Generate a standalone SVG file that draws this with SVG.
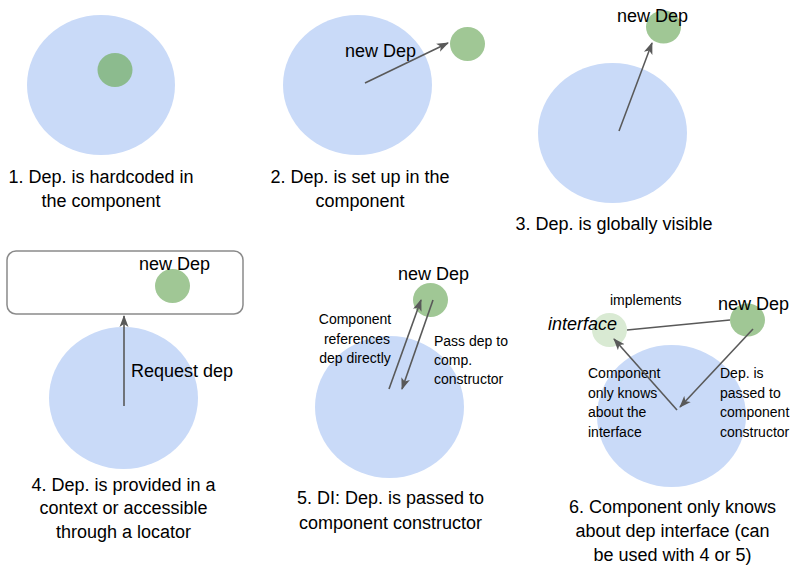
<svg xmlns="http://www.w3.org/2000/svg" width="800" height="569" viewBox="0 0 800 569">
<style>
.comp{fill:#c9daf8}
.dep{fill:#a0c795}
.t{font-family:"Liberation Sans",Arial,sans-serif;fill:#000}
.cap{font-size:18px;text-anchor:middle}
.lbl{font-size:18px}
.sm{font-size:14px}
.conn{stroke:#595959;stroke-width:1.6;fill:none}
</style>
<defs>
<marker id="arr" viewBox="0 0 12 10" refX="11" refY="5" markerWidth="12" markerHeight="10" markerUnits="userSpaceOnUse" orient="auto">
<path d="M0,0.5 L12,5 L0,9.5 L3,5 z" fill="#595959"/>
</marker>
</defs>
<rect width="800" height="569" fill="#fff"/>

<g id="panel1">
<ellipse class="comp" cx="101" cy="85" rx="74" ry="70"/>
<ellipse cx="115" cy="70" rx="17.5" ry="17" fill="#8cbb8e"/>
<text class="t cap" x="101" y="183">1. Dep. is hardcoded in</text>
<text class="t cap" x="101" y="207">the component</text>
</g>

<g id="panel2">
<ellipse class="comp" cx="357.5" cy="85" rx="74.5" ry="70"/>
<ellipse class="dep" cx="467.5" cy="44" rx="17.5" ry="17"/>
<text class="t lbl" x="345" y="57">new Dep</text>
<text class="t cap" x="360" y="183">2. Dep. is set up in the</text>
<text class="t cap" x="360" y="207">component</text>
</g>

<g id="panel3">
<ellipse class="comp" cx="612.5" cy="133" rx="74.5" ry="70"/>
<ellipse class="dep" cx="663.5" cy="27" rx="17.5" ry="16.5"/>
<text class="t lbl" x="617" y="22">new Dep</text>
<text class="t cap" x="614" y="230">3. Dep. is globally visible</text>
</g>

<g id="panel4">
<rect x="7" y="251" width="236" height="63" rx="9" fill="#fff" stroke="#8a8a8a" stroke-width="1.5"/>
<ellipse class="dep" cx="172.5" cy="286" rx="17.5" ry="17"/>
<text class="t lbl" x="139" y="270">new Dep</text>
<ellipse class="comp" cx="123.5" cy="398" rx="74.5" ry="71"/>
<text class="t lbl" x="131" y="377">Request dep</text>
<text class="t cap" x="123.5" y="491">4. Dep. is provided in a</text>
<text class="t cap" x="123.5" y="514">context or accessible</text>
<text class="t cap" x="123.5" y="538">through a locator</text>
</g>

<g id="panel5">
<ellipse class="comp" cx="389.5" cy="407" rx="74.5" ry="71"/>
<ellipse class="dep" cx="430.5" cy="300" rx="17.5" ry="17" fill="#9cc590"/>
<text class="t lbl" x="398" y="280">new Dep</text>
<text class="t sm" x="355" y="324" text-anchor="middle">Component</text>
<text class="t sm" x="357" y="344" text-anchor="middle">references</text>
<text class="t sm" x="355" y="363" text-anchor="middle">dep directly</text>
<text class="t sm" x="434" y="346">Pass dep to</text>
<text class="t sm" x="434" y="365">comp.</text>
<text class="t sm" x="434" y="384">constructor</text>
<text class="t cap" x="390.5" y="504">5. DI: Dep. is passed to</text>
<text class="t cap" x="390.5" y="529">component constructor</text>
</g>

<g id="panel6">
<ellipse class="comp" cx="671.5" cy="416" rx="74.5" ry="71"/>
<ellipse cx="609.5" cy="330" rx="17.5" ry="17" fill="#d9ead3"/>
<text class="t lbl" x="548" y="330" font-style="italic">interface</text>
<text class="t sm" x="610" y="305">implements</text>
<ellipse class="dep" cx="747.5" cy="320" rx="17.5" ry="16.5"/>
<text class="t lbl" x="718" y="310">new Dep</text>
<text class="t sm" x="588" y="378">Component</text>
<text class="t sm" x="588" y="398">only knows</text>
<text class="t sm" x="588" y="417">about the</text>
<text class="t sm" x="588" y="437">interface</text>
<text class="t sm" x="720" y="378">Dep. is</text>
<text class="t sm" x="720" y="398">passed to</text>
<text class="t sm" x="720" y="417">component</text>
<text class="t sm" x="720" y="437">constructor</text>
<text class="t cap" x="672.5" y="513">6. Component only knows</text>
<text class="t cap" x="672.5" y="537">about dep interface (can</text>
<text class="t cap" x="672.5" y="561">be used with 4 or 5)</text>
</g>

<g id="connectors">
<line class="conn" x1="365" y1="83" x2="448" y2="43" marker-end="url(#arr)"/>
<line class="conn" x1="619" y1="131" x2="652" y2="43" marker-end="url(#arr)"/>
<line class="conn" x1="124" y1="406" x2="124" y2="316" marker-end="url(#arr)"/>
<line class="conn" x1="389" y1="389" x2="421" y2="300" marker-end="url(#arr)"/>
<line class="conn" x1="433" y1="300" x2="402" y2="389" marker-end="url(#arr)"/>
<line class="conn" x1="627" y1="330" x2="730" y2="320"/>
<line class="conn" x1="677" y1="410" x2="614" y2="339" marker-end="url(#arr)"/>
<line class="conn" x1="753" y1="329" x2="680" y2="407" marker-end="url(#arr)"/>
</g>
</svg>
